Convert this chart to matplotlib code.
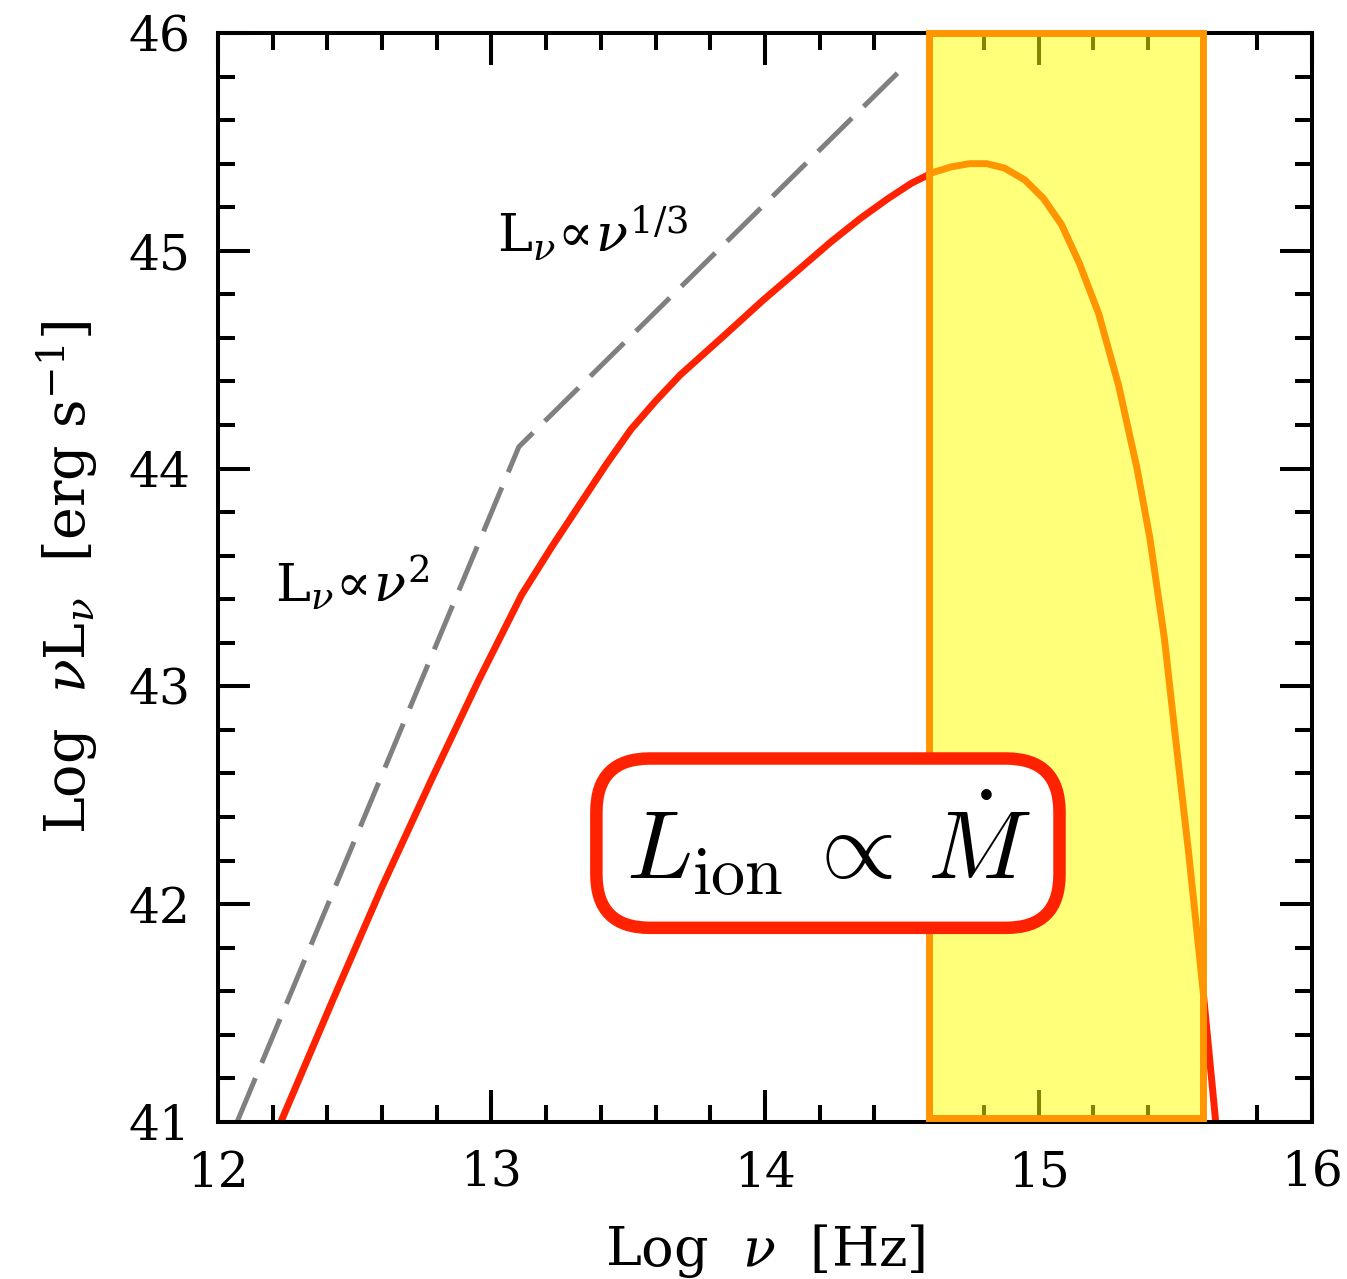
import matplotlib
matplotlib.use('Agg')
import matplotlib.pyplot as plt
from matplotlib.patches import Rectangle
from matplotlib.ticker import MultipleLocator

# disc spectrum, log nu [Hz] vs log nu L_nu [erg/s]
log_nu = [12.10, 12.23, 12.42, 12.60, 12.78, 12.95, 13.11, 13.22, 13.32, 13.42,
          13.51, 13.60, 13.69, 13.85, 13.99, 14.12, 14.24, 14.35, 14.45, 14.535,
          14.615, 14.68, 14.747, 14.81, 14.875, 14.95, 15.018, 15.084, 15.15, 15.22,
          15.293, 15.36, 15.407, 15.46, 15.50, 15.55, 15.60, 15.64, 15.67]
log_nuLnu = [40.62, 41.00, 41.56, 42.08, 42.57, 43.02, 43.42, 43.64, 43.83, 44.02,
             44.18, 44.31, 44.43, 44.61, 44.77, 44.91, 45.04, 45.15, 45.24, 45.31,
             45.36, 45.385, 45.40, 45.40, 45.38, 45.325, 45.24, 45.12, 44.94, 44.71,
             44.38, 44.00, 43.68, 43.22, 42.77, 42.22, 41.62, 41.10, 40.70]

# broken power-law guide: L_nu ~ nu^2 then nu^(1/3)
guide_nu = [12.07, 13.10, 14.52]
guide_lum = [41.00, 44.10, 45.86]

# ionizing band
band_lo, band_hi = 14.6, 15.6
band_bottom, band_top = 41.02, 46.0

red = '#ff2200'
orange = '#ff9500'

plt.rcParams['font.family'] = 'DejaVu Serif'
plt.rcParams['mathtext.fontset'] = 'dejavuserif'

fig = plt.figure(figsize=(13.47, 12.79), dpi=100)
ax = fig.add_axes([0.1618, 0.1228, 0.9741 - 0.1618, 0.9742 - 0.1228])

ax.plot(guide_nu, guide_lum, color='#808080', lw=3.6, dashes=(9.5, 3.3), zorder=2)
ax.plot(log_nu, log_nuLnu, color=red, lw=5, zorder=2)

band = Rectangle((band_lo, band_bottom), band_hi - band_lo, band_top - band_bottom,
                 facecolor=(1.0, 1.0, 0.0, 0.52), edgecolor=orange, lw=5,
                 zorder=3, clip_on=False)
ax.add_patch(band)

ax.text(12.21, 43.39, r'L$_\nu\!\propto\!\nu^2$', fontsize=38, zorder=4)
ax.text(13.02, 44.995, r'L$_\nu\!\propto\!\nu^{1/3}$', fontsize=38, zorder=4)

ax.text(14.23, 42.28, r'$L_{\rm ion}\,\propto\,\dot{M}$',
        fontsize=70, math_fontfamily='cm', ha='center', va='center', zorder=5,
        bbox=dict(boxstyle='round,pad=0.3,rounding_size=0.55',
                  fc='white', ec=red, lw=9))

ax.set_xlim(12, 16)
ax.set_ylim(41, 46)
ax.xaxis.set_major_locator(MultipleLocator(1))
ax.xaxis.set_minor_locator(MultipleLocator(0.2))
ax.yaxis.set_major_locator(MultipleLocator(1))
ax.yaxis.set_minor_locator(MultipleLocator(0.2))
ax.tick_params(which='both', direction='in', top=True, right=True, width=2.9,
               labelsize=35, pad=20)
ax.tick_params(which='major', length=23)
ax.tick_params(which='minor', length=12)
for s in ax.spines.values():
    s.set_linewidth(2.9)

ax.set_xlabel(r'Log  $\nu$  [Hz]', fontsize=39, labelpad=18)
ax.set_ylabel(r'Log  $\nu$L$_\nu$  [erg s$^{-1}$]', fontsize=40, labelpad=20)

fig.savefig('out.png', dpi=100)
